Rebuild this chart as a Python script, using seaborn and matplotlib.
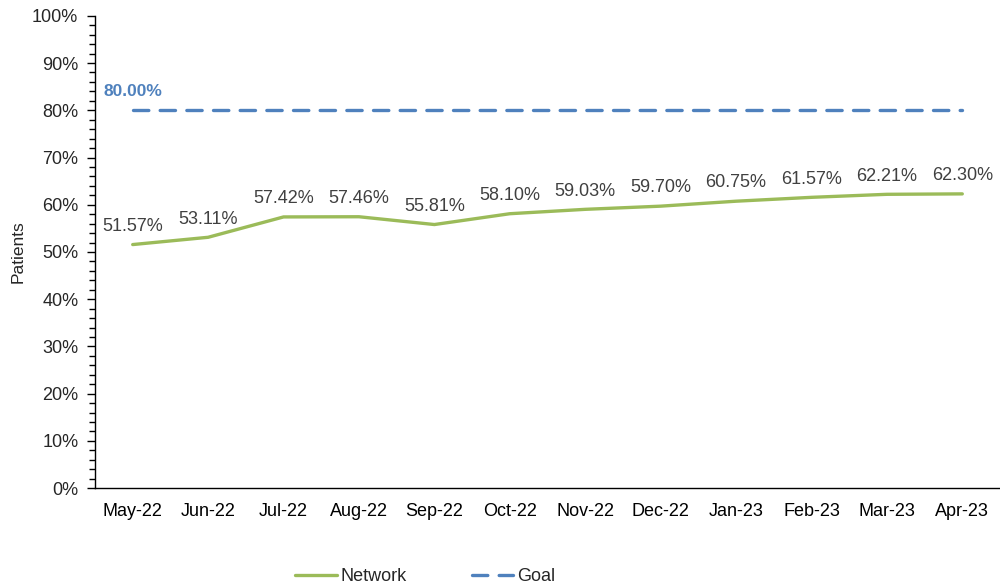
import numpy as np
import pandas as pd
import matplotlib.pyplot as plt
import seaborn as sns
from matplotlib.ticker import MultipleLocator, FuncFormatter

months = ["May-22", "Jun-22", "Jul-22", "Aug-22", "Sep-22", "Oct-22",
          "Nov-22", "Dec-22", "Jan-23", "Feb-23", "Mar-23", "Apr-23"]
network = [51.57, 53.11, 57.42, 57.46, 55.81, 58.10,
           59.03, 59.70, 60.75, 61.57, 62.21, 62.30]
goal = [80.00] * 12

sns.set_style("white")
plt.rcParams['font.family'] = ['Liberation Sans', 'DejaVu Sans']

df = pd.DataFrame({"x": np.arange(len(months)), "Network": network, "Goal": goal})

fig = plt.figure(figsize=(10, 5.86), dpi=100)
ax = fig.add_axes([0.095, 0.167, 0.905, 0.806])

green = "#9BBB59"
blue = "#4F81BD"
sns.lineplot(data=df, x="x", y="Network", ax=ax, color=green, linewidth=2.4, label="Network")
sns.lineplot(data=df, x="x", y="Goal", ax=ax, color=blue, linewidth=2.4, label="Goal",
             dashes=False)
ax.lines[1].set_dashes([4.6, 3.4])
ax.lines[1].set_dash_capstyle("round")

# data labels
for i, v in enumerate(network):
    ax.annotate(f"{v:.2f}%", (i, v), xytext=(0, 7), textcoords="offset points",
                ha="center", va="bottom", fontsize=13, color="#404040")
ax.annotate(f"{goal[0]:.2f}%", (0, goal[0]), xytext=(-21, 8), textcoords="offset points",
            ha="left", va="bottom", fontsize=12.5, color=blue, fontweight="bold")

ax.set_xlim(-0.5, len(months) - 0.5)
ax.set_ylim(0, 100)
ax.yaxis.set_major_locator(MultipleLocator(10))
ax.yaxis.set_minor_locator(MultipleLocator(2))
ax.yaxis.set_major_formatter(FuncFormatter(lambda v, p: f"{v:.0f}%"))
ax.set_xticks(np.arange(-0.5, len(months), 1))
ax.set_xticklabels([])
ax.set_xticks(np.arange(len(months)), minor=True)
ax.set_xticklabels(months, minor=True)
ax.tick_params(axis="x", which="major", direction="out", length=6, width=1, color="black")
ax.tick_params(axis="x", which="minor", length=0, labelsize=13, pad=11, labelcolor="black")
ax.tick_params(axis="y", which="major", direction="out", length=6, width=1, labelsize=13,
               color="black", left=True, pad=6)
ax.tick_params(axis="y", which="minor", direction="out", length=4, width=1, color="black", left=True)
ax.set_xlabel("")
ax.set_ylabel("Patients", fontsize=12.5, labelpad=5)

sns.despine(ax=ax)
for s in ["left", "bottom"]:
    ax.spines[s].set_color("black")
    ax.spines[s].set_linewidth(1)

leg = ax.legend(loc="lower center", bbox_to_anchor=(0.365, -0.24), ncol=2, frameon=False,
                fontsize=13, handlelength=2.3, columnspacing=3.6, handletextpad=0.2)

fig.savefig("out.png", dpi=100)
